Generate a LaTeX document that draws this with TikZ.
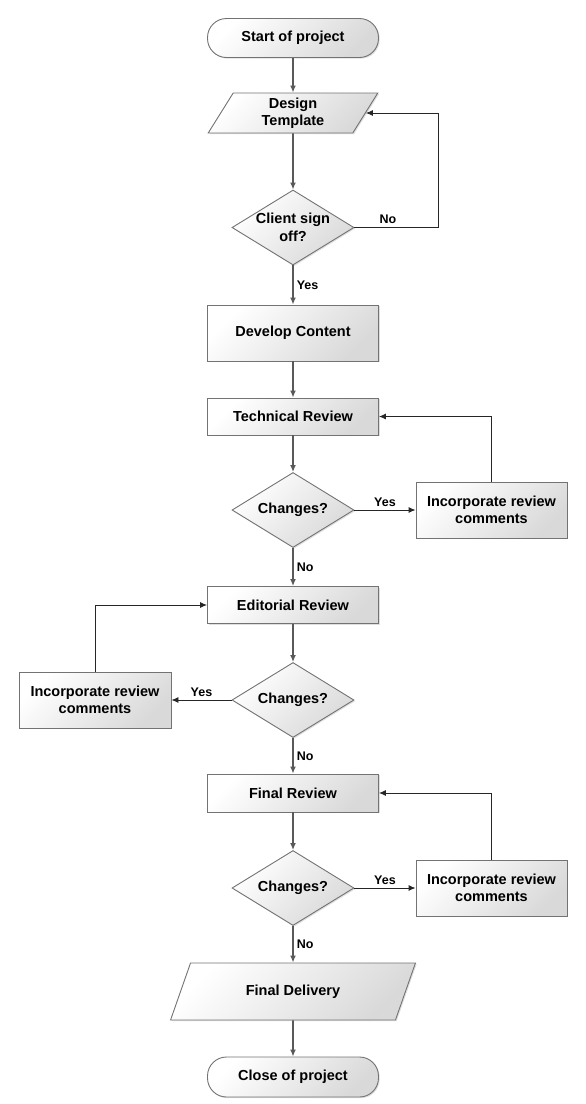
\documentclass[tikz,border=0pt]{standalone}
\usepackage{fontspec}
\setmainfont{Liberation Sans}
\usetikzlibrary{arrows.meta,positioning,calc,shapes.geometric,shadows}

\tikzset{
  base/.style={draw=black!55, line width=0.9pt, align=center,
    font=\bfseries\fontsize{14.5}{17.5}\selectfont,
    top color=white, bottom color=black!15, shading angle=45,
    drop shadow={opacity=0.25, shadow xshift=1.2pt, shadow yshift=-1.2pt}},
  procbox/.style={base, rectangle, minimum width=171pt, minimum height=37pt, inner sep=2pt},
  termbox/.style={base, rectangle, rounded corners=19pt, minimum width=171pt, minimum height=39pt},
  databox/.style={base, trapezium, trapezium stretches=true},
  decide/.style={base, diamond, aspect=1.63, minimum width=122pt, minimum height=75pt, inner sep=0pt},
  flow/.style={draw=black!65, line width=1.6pt, -{Latex[length=7pt,width=6pt]}},
  side/.style={draw=black!85, line width=0.9pt, -{Latex[length=7pt,width=6pt]}},
  lbl/.style={font=\bfseries\fontsize{12.5}{15}\selectfont, inner sep=3pt},
}

\begin{document}
\begin{tikzpicture}[x=1pt, y=-1pt]
        \useasboundingbox (0,0) rectangle (586,1104);
        % Main column
        \node [termbox] (start) at (293,38) {Start of project};
        \node [databox, trapezium left angle=69, trapezium right angle=111,
               minimum width=171pt, minimum height=40pt] (design) at (293,113) {Design\\Template};
        \node [decide] (sign) at (293,227.5) {Client sign\\off?};
        \node [procbox, minimum height=56pt] (develop) at (293,333) {Develop Content};
        \node [procbox] (tech) at (293,416.5) {Technical Review};
        \node [decide] (chk1) at (293,510) {Changes?};
        \node [procbox] (edit) at (293,605) {Editorial Review};
        \node [decide] (chk2) at (293,700) {Changes?};
        \node [procbox, minimum height=38pt] (final) at (293,793) {Final Review};
        \node [decide] (chk3) at (293,888) {Changes?};
        \node [databox, trapezium left angle=64, trapezium right angle=116,
               minimum width=245pt, minimum height=57pt] (deliver) at (293,991.5) {Final Delivery};
        \node [termbox, minimum height=40pt] (close) at (293,1077) {Close of project};
        % Review comment boxes
        \node [procbox, minimum width=151pt, minimum height=56pt] (fix1) at (491.5,510) {Incorporate review\\comments};
        \node [procbox, minimum width=152pt, minimum height=56pt] (fix2) at (95,700) {Incorporate review\\comments};
        \node [procbox, minimum width=151pt, minimum height=56pt] (fix3) at (491.5,888) {Incorporate review\\comments};
        % Flow down
        \draw [flow] (start) -- (design);
        \draw [flow] (design) -- (sign);
        \draw [flow] (sign) -- node [lbl, right] (yes0) {Yes} (develop);
        \draw [flow] (develop) -- (tech);
        \draw [flow] (tech) -- (chk1);
        \draw [flow] (chk1) -- node [lbl, right] (no1) {No} (edit);
        \draw [flow] (edit) -- (chk2);
        \draw [flow] (chk2) -- node [lbl, right] (no2) {No} (final);
        \draw [flow] (final) -- (chk3);
        \draw [flow] (chk3) -- node [lbl, right] (no3) {No} (deliver);
        \draw [flow] (deliver) -- (close);
        % Loops back
        \coordinate (noturn) at (438,227.5);
        \draw [side] (sign.east) -- node [lbl, above, pos=0.4] (no0) {No} (noturn) |- (design.east);
        \draw [side] (chk1.east) -- node [lbl, above] (yes1) {Yes} (fix1.west);
        \draw [side] (fix1.north) |- (tech.east);
        \draw [side] (chk2.west) -- node [lbl, above] (yes2) {Yes} (fix2.east);
        \draw [side] (fix2.north) |- (edit.west);
        \draw [side] (chk3.east) -- node [lbl, above] (yes3) {Yes} (fix3.west);
        \draw [side] (fix3.north) |- (final.east);
\end{tikzpicture}
\end{document}
